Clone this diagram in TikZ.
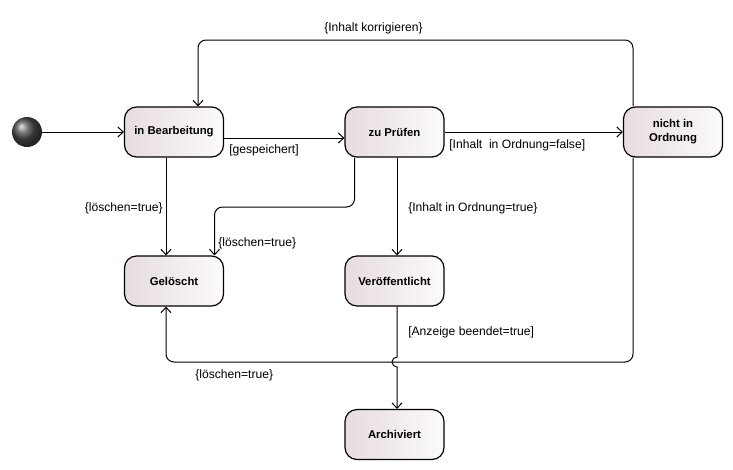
\documentclass[tikz,border=0pt]{standalone}
\usepackage{fontspec}
\setmainfont{Liberation Sans}
\usetikzlibrary{arrows.meta,calc}

\definecolor{boxdark}{RGB}{230,220,222}
\definecolor{boxlight}{RGB}{252,250,250}

\tikzset{
  state/.style={draw, line width=0.9pt, rounded corners=9pt,
    minimum width=74.25pt, minimum height=37.5pt, align=center,
    left color=boxdark, right color=boxlight,
    font=\fontsize{8.5}{10.5}\selectfont\bfseries},
  trans/.style={line width=0.75pt, -{Straight Barb[length=4pt,width=7.5pt]}},
  guard/.style={inner sep=0.75pt, font=\fontsize{9.1}{10.5}\selectfont}
}

\begin{document}
\begin{tikzpicture}[x=0.75pt,y=0.75pt,yscale=-1,xscale=1]
\useasboundingbox (0,0) rectangle (733,469);

% Start
\node[circle, minimum size=22.5pt, inner sep=0pt, shading=ball, ball color=black!70] (start) at (27,132) {};

% States
\node[state] (bearb) at (174,132) {in Bearbeitung};
\node[state] (pruef) at (394.5,132) {zu Prüfen};
\node[state] (nio) at (673,132) {nicht in\\Ordnung};
\node[state] (gel) at (174,281) {Gelöscht};
\node[state] (veroef) at (394.5,281) {Veröffentlicht};
\node[state] (arch) at (394.5,434.5) {Archiviert};

% Helper coordinates
\coordinate (top) at (400,40);
\coordinate (mid) at (300,207);
\coordinate (bot) at (400,362);
\coordinate (hop) at (397,362);

% Transitions
\draw[trans] (start.east) -- (bearb.west);
\draw[trans] ($(bearb.east)+(0,6)$) -- ($(pruef.west)+(0,6)$);
\draw[trans] (pruef.east) -- (nio.west);
\draw[trans, rounded corners=6pt] ($(nio.north)+(-40,0)$) |- (top) -| ($(bearb.north)+(24,0)$);
\draw[trans] ($(bearb.south)+(-8,0)$) -- ($(gel.north)+(-8,0)$);
\draw[trans, rounded corners=6pt] ($(pruef.south)+(-40,0)$) |- (mid) -| ($(gel.north)+(40.5,0)$);
\draw[trans] ($(pruef.south)+(2.5,0)$) -- ($(veroef.north)+(2.5,0)$);
\draw[trans] ($(veroef.south)+(2.5,0)$) -- ($(hop)+(0,-5)$) arc[start angle=-90, end angle=-270, radius=5] -- ($(arch.north)+(2.5,0)$);
\draw[trans, rounded corners=6pt] ($(nio.south)+(-40,0)$) |- (bot) -| ($(gel.south)+(-8,0)$);

% Guards
\node[guard, anchor=west] (g1) at (228,150) {[gespeichert]};
\node[guard, anchor=west] (g2) at (448,145) {[Inhalt\ \ in Ordnung=false]};
\node[guard] (g3) at (373.5,28) {\{Inhalt korrigieren\}};
\node[guard, anchor=east] (g4) at (164,208) {\{löschen=true\}};
\node[guard, anchor=west] (g5) at (217,243) {\{löschen=true\}};
\node[guard, anchor=west] (g6) at (407,208) {\{Inhalt in Ordnung=true\}};
\node[guard, anchor=west] (g7) at (407,332) {[Anzeige beendet=true]};
\node[guard, anchor=west] (g8) at (194,375) {\{löschen=true\}};

\end{tikzpicture}
\end{document}
